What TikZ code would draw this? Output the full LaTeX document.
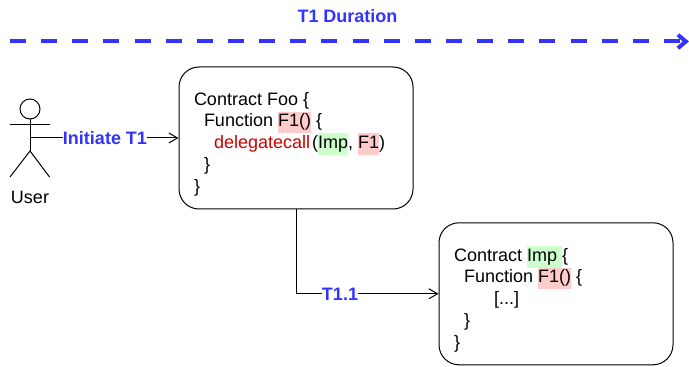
\documentclass[tikz,border=0pt]{standalone}
\usepackage{fontspec}
\setmainfont{Liberation Sans}
\usetikzlibrary{arrows.meta}
\definecolor{txblue}{HTML}{3333FF}
\definecolor{hlred}{HTML}{FFCCCC}
\definecolor{hlgreen}{HTML}{CCFFCC}
\definecolor{callred}{HTML}{CC0000}
\newcommand{\hlbox}[2]{{\setlength{\fboxsep}{0pt}\colorbox{#1}{\strut #2}}}

\begin{document}
\begin{tikzpicture}
  [x=.75pt, y=-.75pt,
  contract/.style={
    draw=black,
    fill=white,
    rectangle,
    rounded corners=15pt,
    line width=.75pt,
    inner sep=0pt,
    minimum width=175.5pt,
    minimum height=106.5pt}, tlabel/.style={
    fill=white,
    text=txblue,
    inner sep=0pt,
    font=\fontsize{13.5}{16}\selectfont\bfseries}, call/.style={
    line width=.75pt,
    -{Straight Barb[length=6.5pt,width=7.5pt]}}, stick/.style={
    line width=.75pt}]

  \useasboundingbox (0,0) rectangle (689,367);

  \coordinate (start) at (10,41.5);
  \coordinate (end) at (689,41.5);
  \draw [txblue, line width=3pt, dash pattern=on 12pt off 11.36pt,
    -{Straight Barb[length=6pt,width=10pt]}] (start) -- (end);
  \node [tlabel] at (347.5,16) (duration) {T1 Duration};

  \node [contract] at (296,138) (foo) {
  \begin{minipage}{153pt}
    \fontsize{13.5}{16.3}\selectfont
    \vspace*{9pt}
    Contract Foo \{\\
    \hspace*{7.5pt}Function \hlbox{hlred}{F1()} \{\\
    \hspace*{15pt}\textcolor{callred}{delegatecall}\kern1.5pt(\hlbox{hlgreen}{Imp}, \hlbox{hlred}{F1})\\
    \hspace*{7.5pt}\}\\
    \}
  \end{minipage}
  };

  \node [contract] at (556,293.8) (imp) {
  \begin{minipage}{153pt}
    \fontsize{13.5}{16.3}\selectfont
    \vspace*{7.5pt}
    Contract \hlbox{hlgreen}{Imp\kern3.75pt}\{\\
    \hspace*{7.5pt}Function \hlbox{hlred}{F1()} \{\\
    \hspace*{30pt}[...]\\
    \hspace*{7.5pt}\}\\
    \}
  \end{minipage}
  };

  % user
  \node [draw, circle, line width=.75pt, inner sep=0pt, minimum size=15pt] at (30,109) (head) {};
  \coordinate (hip) at (30,151);
  \coordinate (hand) at (30,138);
  \coordinate (armleft) at (10,125);
  \coordinate (armright) at (49.5,125);
  \coordinate (footleft) at (10,177);
  \coordinate (footright) at (49.5,177);
  \draw [stick] (head) -- (hip);
  \draw [stick] (armleft) -- (armright);
  \draw [stick] (footleft) -- (hip) -- (footright);
  \node [font=\fontsize{13.5}{16}\selectfont] at (30,197) (user) {User};

  \draw [call] (hand) -- (foo);
  \draw [call] (foo) |- (imp);

  \node [tlabel] at (105,138) (initiate) {Initiate T1};
  \node [tlabel] at (340,294) (sub) {T1.1};
\end{tikzpicture}
\end{document}
